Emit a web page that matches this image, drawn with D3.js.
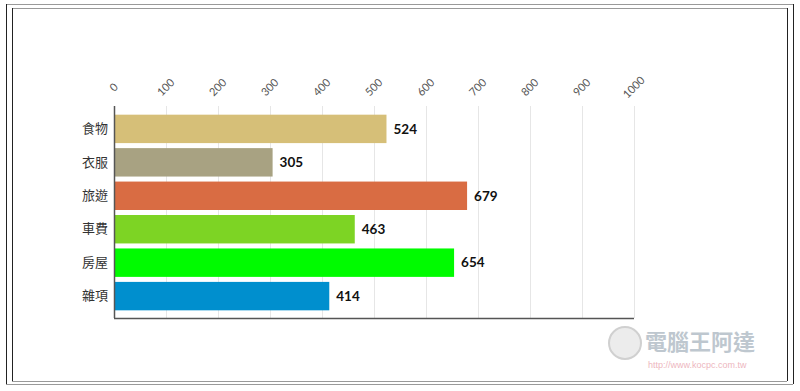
<!DOCTYPE html>
<html>
<head>
<meta charset="utf-8">
<script src="https://cdn.jsdelivr.net/npm/d3@7"></script>
<style>
  body { margin: 0; background: #fff; }
  svg { display: block; }
</style>
</head>
<body>
<svg id="chart"></svg>
<script>
const categories = ['食物', '衣服', '旅遊', '車費', '房屋', '雜項'];
const values = [524, 305, 679, 463, 654, 414];
const colors = ['#d6bf78', '#a8a282', '#d96c43', '#7dd424', '#00fb00', '#008fce'];
const ticks = [0, 100, 200, 300, 400, 500, 600, 700, 800, 900, 1000];

const WIDTH = 800,
      HEIGHT = 391,
      MARGINS = { top: 106, right: 166, bottom: 73, left: 114 };

const svg = d3.select('#chart')
   .attr('width', WIDTH)
   .attr('height', HEIGHT);

// screenshot frame (two nested boxes)
const frame = svg.append('g');
[[6, 4, 793, 384], [12, 8, 787, 381]].forEach(([x0, y0, x1, y1]) => {
   frame.append('line').attr('x1', x0).attr('x2', x1).attr('y1', y0 + 0.5).attr('y2', y0 + 0.5).attr('stroke', '#999');
   frame.append('line').attr('x1', x0).attr('x2', x1).attr('y1', y1 + 0.5).attr('y2', y1 + 0.5).attr('stroke', '#999');
   frame.append('line').attr('x1', x0 + 0.5).attr('x2', x0 + 0.5).attr('y1', y0).attr('y2', y1).attr('stroke', '#222');
   frame.append('line').attr('x1', x1 + 0.5).attr('x2', x1 + 0.5).attr('y1', y0).attr('y2', y1).attr('stroke', '#222');
});

const innerW = WIDTH - MARGINS.left - MARGINS.right,
      innerH = HEIGHT - MARGINS.top - MARGINS.bottom;

const x = d3.scaleLinear().domain([0, 1000]).range([0, innerW]);
const y = d3.scaleBand().domain(categories).range([6, innerH - 5])
   .paddingInner(0.15).paddingOuter(0.08);

const g = svg.append('g')
   .attr('transform', 'translate(' + MARGINS.left + ',' + MARGINS.top + ')');

// grid
g.append('g')
   .selectAll('line')
   .data(ticks.slice(1))
   .join('line')
   .attr('x1', d => Math.round(x(d)) + 0.5)
   .attr('x2', d => Math.round(x(d)) + 0.5)
   .attr('y1', 0)
   .attr('y2', innerH)
   .attr('stroke', '#e6e6e6');

// top axis labels, rotated
const topAxis = g.append('g')
   .call(d3.axisTop(x).tickValues(ticks).tickSize(0).tickFormat(d3.format('d')));
topAxis.select('.domain').remove();
topAxis.selectAll('text')
   .attr('fill', '#555')
   .attr('font-family', 'Lato, sans-serif')
   .attr('font-size', 11)
   .attr('text-anchor', 'middle')
   .attr('dy', null)
   .attr('y', null)
   .attr('transform', 'translate(0,-18) rotate(-45)')
   .attr('dominant-baseline', 'middle');

// bars
g.append('g')
   .selectAll('rect')
   .data(values)
   .join('rect')
   .attr('x', 0)
   .attr('y', (d, i) => y(categories[i]))
   .attr('width', d => x(d))
   .attr('height', y.bandwidth())
   .attr('fill', (d, i) => colors[i]);

// value labels
g.append('g')
   .selectAll('text')
   .data(values)
   .join('text')
   .attr('x', d => x(d) + 7)
   .attr('y', (d, i) => y(categories[i]) + y.bandwidth() / 2)
   .attr('dy', '0.35em')
   .attr('font-family', 'Lato, sans-serif')
   .attr('font-weight', 'bold')
   .attr('font-size', 13.5)
   .attr('fill', '#111')
   .text(d => d);

// left axis
const leftAxis = g.append('g')
   .call(d3.axisLeft(y).tickSize(0).tickPadding(6));
leftAxis.select('.domain').remove();
leftAxis.selectAll('text')
   .attr('font-family', '"Noto Sans CJK TC", sans-serif')
   .attr('font-size', 13)
   .attr('fill', '#333');

g.append('line')
   .attr('x1', 0.5).attr('x2', 0.5)
   .attr('y1', 0).attr('y2', innerH)
   .attr('stroke', '#555').attr('stroke-width', 1.5);
g.append('line')
   .attr('x1', 0).attr('x2', innerW)
   .attr('y1', innerH + 0.5).attr('y2', innerH + 0.5)
   .attr('stroke', '#555').attr('stroke-width', 1.5);

// faint watermark
const wm = svg.append('g').attr('opacity', 0.55);
wm.append('circle').attr('cx', 625).attr('cy', 343).attr('r', 16)
   .attr('fill', '#ddd').attr('stroke', '#aaa').attr('stroke-width', 2);
wm.append('text')
   .attr('x', 645).attr('y', 350)
   .attr('font-family', '"Noto Sans CJK TC", sans-serif')
   .attr('font-weight', 'bold')
   .attr('font-size', 22)
   .attr('fill', '#8a9aa8')
   .text('電腦王阿達');
wm.append('text')
   .attr('x', 648).attr('y', 368)
   .attr('font-family', 'Arial, "Liberation Sans", sans-serif')
   .attr('font-size', 9)
   .attr('fill', '#e07a8a')
   .text('http://www.kocpc.com.tw');
</script>
</body>
</html>
